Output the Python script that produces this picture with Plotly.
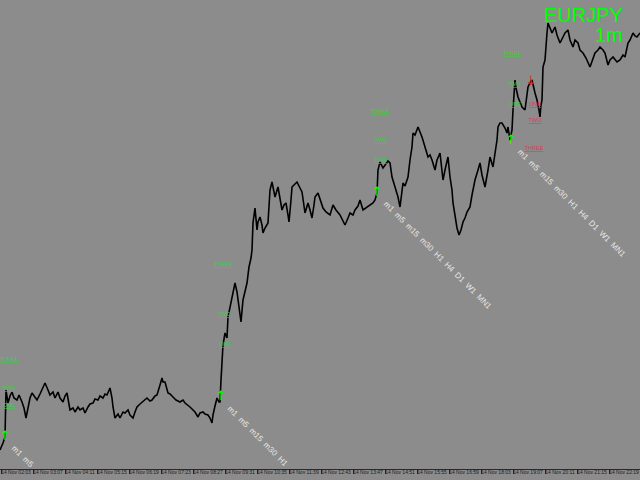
import pandas as pd
import plotly.graph_objects as go

# ---------------- data ----------------
DAY = "2014-11-14"
SYMBOL = "EURJPY"
TIMEFRAME = "1m"

# minute of day for each sampled 1m close, and the price
minutes = [121,125,127,131,133,137,141,145,149,155,159,165,169,173,177,181,185,191,195,201,
           205,211,217,221,227,231,237,241,247,251,255,261,267,271,277,281,287,291,297,301,
           307,311,317,321,327,331,335,341,345,347,351,357,361,367,371,377,381,387,391,395,
           401,405,411,415,421,425,431,435,441,445,447,451,457,461,467,473,481,487,491,497,
           501,507,511,517,521,527,531,537,541,545,547,551,555,559,561,563,565,567,571,575,
           577,581,585,587,591,595,597,601,603,607,611,615,619,623,625,627,631,635,637,641,
           645,647,651,657,661,665,669,671,677,681,685,689,693,697,699,703,705,711,715,721,
           725,731,737,741,745,749,751,757,761,767,773,781,787,793,801,807,811,817,821,827,
           831,837,841,847,855,861,867,871,875,877,881,887,891,897,901,905,911,917,921,927,
           931,937,941,945,947,951,957,961,965,971,977,981,985,991,995,1001,1005,1007,1011,1017,
           1021,1025,1027,1031,1035,1039,1043,1047,1051,1055,1061,1065,1071,1077,1081,1085,1091,1097,1101,1107,
           1111,1115,1117,1121,1125,1131,1135,1137,1141,1145,1147,1151,1153,1157,1161,1165,1171,1175,1177,1181,
           1185,1191,1195,1199,1201,1203,1205,1207,1211,1215,1217,1221,1225,1231,1235,1241,1247,1251,1257,1261,
           1267,1271,1277,1281,1287,1293,1301,1307,1311,1317,1321,1327,1331,1337,1341,1347,1355,1361,1367,1371,
           1377,1381,1387,1391,1395,1401]
prices = [143.750,143.770,143.785,143.815,144.050,143.985,144.020,144.040,144.010,144.000,
          144.025,143.990,143.960,143.910,143.965,144.010,144.035,144.010,144.000,144.030,
          144.050,144.085,144.050,144.025,144.040,144.010,144.040,144.010,143.990,144.020,
          144.035,143.950,143.960,143.940,143.965,143.950,143.960,143.935,143.965,143.980,
          143.985,144.005,144.000,144.020,144.010,144.030,144.025,144.060,144.010,143.965,
          143.910,143.930,143.910,143.940,143.935,143.950,143.925,143.910,143.940,143.965,
          143.980,143.990,144.000,144.010,143.995,144.000,144.020,144.025,144.075,144.110,
          144.090,144.090,144.035,144.030,144.015,144.000,143.990,144.000,143.985,143.975,
          143.965,143.950,143.940,143.915,143.935,143.940,143.930,143.925,143.910,143.885,
          143.925,143.970,144.010,143.990,143.990,144.100,144.200,144.275,144.335,144.310,
          144.415,144.465,144.500,144.535,144.585,144.540,144.500,144.440,144.390,144.500,
          144.540,144.585,144.665,144.710,144.750,144.885,144.960,144.850,144.890,144.915,
          144.875,144.835,144.860,144.885,145.050,145.090,145.040,145.015,145.065,145.010,
          144.950,144.975,144.985,144.925,144.890,145.000,145.065,145.080,145.090,145.060,
          145.040,144.935,144.985,144.950,144.910,144.975,145.015,145.035,145.000,144.960,
          144.940,144.925,144.975,144.950,144.925,144.890,144.875,144.910,144.935,144.925,
          144.950,144.970,145.000,144.950,144.965,144.975,144.985,145.000,145.035,145.150,
          145.190,145.160,145.175,145.195,145.185,145.115,145.065,145.015,144.965,145.085,
          145.070,145.115,145.200,145.265,145.335,145.325,145.365,145.340,145.315,145.265,
          145.215,145.225,145.200,145.150,145.200,145.235,145.160,145.100,145.150,145.215,
          145.115,145.050,144.985,144.925,144.860,144.825,144.850,144.890,144.910,144.940,
          144.965,145.025,145.100,145.150,145.185,145.125,145.065,145.150,145.215,145.165,
          145.235,145.300,145.365,145.385,145.385,145.360,145.335,145.365,145.300,145.350,
          145.450,145.600,145.560,145.515,145.490,145.465,145.450,145.525,145.565,145.585,
          145.600,145.535,145.500,145.450,145.415,145.475,145.500,145.665,145.700,145.835,
          145.885,145.860,145.835,145.865,145.825,145.785,145.815,145.835,145.850,145.800,
          145.765,145.800,145.785,145.750,145.735,145.710,145.665,145.710,145.735,145.750,
          145.765,145.750,145.735,145.675,145.700,145.715,145.690,145.700,145.725,145.715,
          145.785,145.800,145.835,145.820,145.815,145.835]

tick_labels = ["14 Nov 02:03","14 Nov 03:07","14 Nov 04:11","14 Nov 05:15","14 Nov 06:19",
               "14 Nov 07:23","14 Nov 08:27","14 Nov 09:31","14 Nov 10:35","14 Nov 11:39",
               "14 Nov 12:43","14 Nov 13:47","14 Nov 14:51","14 Nov 15:55","14 Nov 16:59",
               "14 Nov 18:03","14 Nov 19:07","14 Nov 20:11","14 Nov 21:15","14 Nov 22:19"]

# buy signals (green arrows up)
buy_minutes = [131, 563, 875, 1143]
buy_prices = [143.815, 144.015, 145.035, 145.295]
# sell signal (red arrow down)
sell_minutes = [1183]
sell_prices = [145.590]

# target labels
green_lbl_text = ["THREE","TWO","ONE"] * 4
green_lbl_minutes = [139,139,139, 567,569,571, 881,883,883, 1145,1149,1151]
green_lbl_prices = [144.200,144.055,143.970, 144.675,144.425,144.275,
                    145.440,145.295,145.195, 145.730,145.575,145.475]
red_lbl_text = ["ONE","TWO","THREE"]
red_lbl_minutes = [1191,1191,1189]
red_lbl_prices = [145.475,145.395,145.255]

tf_text_full = "m1  m5  m15  m30  H1  H4  D1  W1  MN1"
tf_text_shown = ["m1  m5", "m1  m5  m15  m30  H1", tf_text_full, tf_text_full]

x_range_minutes = [121, 1401]
y_range = [143.655, 146.000]

# ---------------- build ----------------
base = pd.Timestamp(DAY)
def to_time(mins):
    return [base + pd.Timedelta(minutes=m) for m in mins]

tick_vals = [pd.Timestamp(f"{DAY} {lbl[-5:]}") for lbl in tick_labels]

fig = go.Figure()
fig.add_trace(go.Scatter(x=to_time(minutes), y=prices, mode="lines",
                         line=dict(color="#000000", width=1.6), hoverinfo="skip"))

fig.add_trace(go.Scatter(x=to_time(green_lbl_minutes), y=green_lbl_prices, mode="text",
                         text=[f"<u>{t}</u>" for t in green_lbl_text],
                         textfont=dict(family="Liberation Sans", size=5.5, color="#3ccf3c"),
                         hoverinfo="skip"))
fig.add_trace(go.Scatter(x=to_time(red_lbl_minutes), y=red_lbl_prices, mode="text",
                         text=[f"<u>{t}</u>" for t in red_lbl_text],
                         textfont=dict(family="Liberation Sans", size=5.5, color="#d83c5c"),
                         hoverinfo="skip"))
fig.add_trace(go.Scatter(x=to_time(buy_minutes), y=buy_prices, mode="text",
                         text=["↑"] * len(buy_minutes),
                         textfont=dict(family="DejaVu Sans", size=13, color="#00ff00"),
                         hoverinfo="skip"))
fig.add_trace(go.Scatter(x=to_time(sell_minutes), y=sell_prices, mode="text",
                         text=["↓"] * len(sell_minutes),
                         textfont=dict(family="DejaVu Sans", size=13, color="#ff1a1a"),
                         hoverinfo="skip"))

annotations = []
for t, m, p in zip(tf_text_shown, buy_minutes, buy_prices):
    annotations.append(dict(x=to_time([m])[0], y=p, xref="x", yref="y", text=t,
                            showarrow=False, textangle=45, xanchor="left", yanchor="top",
                            xshift=2, yshift=-4,
                            font=dict(family="Liberation Sans", size=8, color="#e6e6e6")))
annotations.append(dict(x=625/640, y=1 - 15/469, xref="paper", yref="paper", text=SYMBOL,
                        showarrow=False, xanchor="right", yanchor="middle",
                        font=dict(family="Liberation Sans", size=20, color="#00ff00")))
annotations.append(dict(x=625/640, y=1 - 35/469, xref="paper", yref="paper", text=TIMEFRAME,
                        showarrow=False, xanchor="right", yanchor="middle",
                        font=dict(family="Liberation Sans", size=20, color="#00ff00")))

bg = "#8c8c8c"
fig.update_layout(
    width=640, height=480,
    margin=dict(l=0, r=0, t=0, b=11, pad=0),
    paper_bgcolor=bg, plot_bgcolor=bg,
    showlegend=False,
    annotations=annotations,
    xaxis=dict(type="date", range=to_time(x_range_minutes), tickvals=tick_vals,
               ticktext=tick_labels, tickangle=0, ticks="outside", ticklen=4,
               tickcolor="#222222", showline=True, linecolor="#2a2a2a", linewidth=1,
               showgrid=False, zeroline=False, automargin=False, ticklabelshift=15,
               ticklabelstandoff=-6,
               tickfont=dict(family="Liberation Sans", size=5, color="#1a1a1a")),
    yaxis=dict(range=y_range, visible=False, showgrid=False, zeroline=False),
)

fig.write_html("out.html", config={"displayModeBar": False},
               post_script="document.body.style.margin='0';document.body.style.background='#8c8c8c';")
